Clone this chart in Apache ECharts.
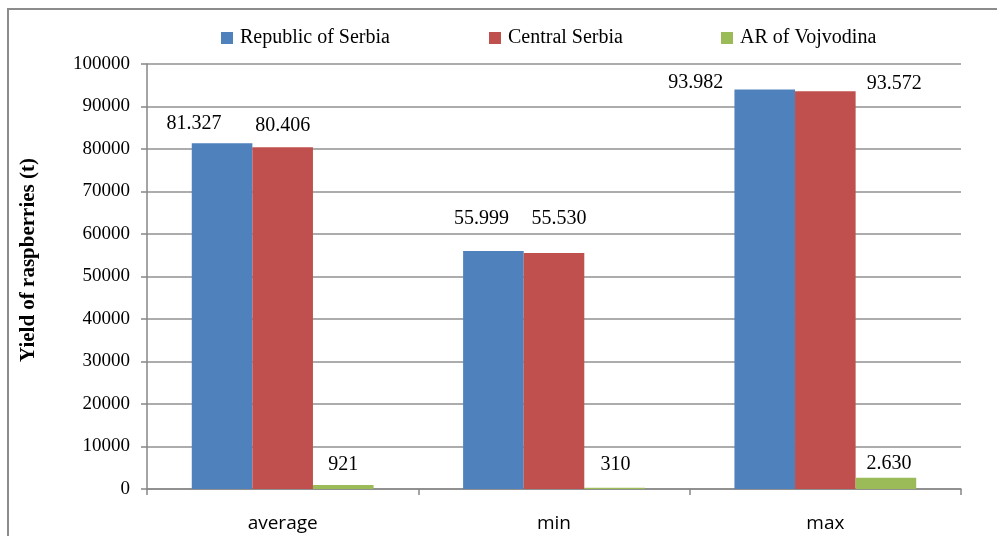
<!DOCTYPE html>
<html>
<head>
<meta charset="utf-8">
<script src="https://cdn.jsdelivr.net/npm/echarts@6/dist/echarts.min.js"></script>
<style>
html,body{margin:0;padding:0;background:#fff;}
#c{width:997px;height:536px;}
</style>
</head>
<body>
<div id="c"></div>
<script>
// ---- data ----
const categories = ['average', 'min', 'max'];
const seriesNames = ['Republic of Serbia', 'Central Serbia', 'AR of Vojvodina'];
const serbia = [81327, 55999, 93982];
const central = [80406, 55530, 93572];
const vojvodina = [921, 310, 2630];
const yTicks = [0, 10000, 20000, 30000, 40000, 50000, 60000, 70000, 80000, 90000, 100000];

// ---- style / layout ----
const colors = ['#4f81bd', '#c0504d', '#9bbb59'];
// label nudges [dx, dy] per series per category (layout only)
const labelNudges = [
  [[-28, -10], [-12, -22], [-69, 3]],
  [[0, -12], [5, -24], [69, 2]],
  [[0, -10], [1, -13], [3, -4]]
];
const legendLefts = [221, 489, 721];
const serif = '"Liberation Serif", "Times New Roman", serif';

function fmt(v) {
  return String(v).replace(/\B(?=(\d{3})+(?!\d))/g, '.');
}

const allData = [serbia, central, vojvodina];
const series = allData.map((arr, si) => ({
  name: seriesNames[si],
  type: 'bar',
  barGap: '0%',
  barCategoryGap: '33%',
  itemStyle: { color: colors[si] },
  data: arr.map((v, ci) => ({
    value: v,
    label: { offset: labelNudges[si][ci] }
  })),
  label: {
    show: true,
    position: 'top',
    distance: 0,
    color: '#000',
    fontFamily: serif,
    fontSize: 20,
    formatter: p => fmt(p.value)
  }
}));

const legends = seriesNames.map((n, i) => ({
  data: [n],
  left: legendLefts[i],
  top: 28,
  padding: 0,
  icon: 'rect',
  itemWidth: 12,
  itemHeight: 12,
  textStyle: { fontFamily: serif, fontSize: 20, color: '#000', padding: [0, 0, 0, 2] }
}));

const chart = echarts.init(document.getElementById('c'), null, { renderer: 'canvas' });
chart.setOption({
  animation: false,
  backgroundColor: '#fff',
  legend: legends,
  grid: { left: 147, right: 36, top: 64, bottom: 47, containLabel: false },
  xAxis: {
    type: 'category',
    data: categories,
    axisLine: { lineStyle: { color: '#868686', width: 1.5 } },
    axisTick: { show: true, length: 6, lineStyle: { color: '#868686', width: 1.5 } },
    axisLabel: { color: '#000', fontFamily: '"Open Sans", "Liberation Sans", sans-serif', fontSize: 19, margin: 25 }
  },
  yAxis: {
    type: 'value',
    min: yTicks[0],
    max: yTicks[yTicks.length - 1],
    interval: yTicks[1] - yTicks[0],
    axisLine: { show: true, lineStyle: { color: '#868686', width: 1.5 } },
    axisTick: { show: true, length: 6, lineStyle: { color: '#868686', width: 1.5 } },
    splitLine: { lineStyle: { color: '#909090', width: 1.5 } },
    axisLabel: { color: '#000', fontFamily: serif, fontSize: 19, margin: 17, formatter: v => String(v) }
  },
  graphic: [
    {
      type: 'rect',
      shape: { x: 8, y: 9, width: 1200, height: 800 },
      style: { fill: 'none', stroke: '#8c8c8c', lineWidth: 2 },
      silent: true, z: -1
    },
    {
      type: 'text',
      x: 29, y: 260,
      rotation: Math.PI / 2,
      style: {
        text: 'Yield of raspberries (t)',
        fontFamily: serif, fontSize: 21, fontWeight: 'bold', fill: '#000',
        align: 'center', verticalAlign: 'middle'
      }
    }
  ],
  series: series
});
</script>
</body>
</html>
